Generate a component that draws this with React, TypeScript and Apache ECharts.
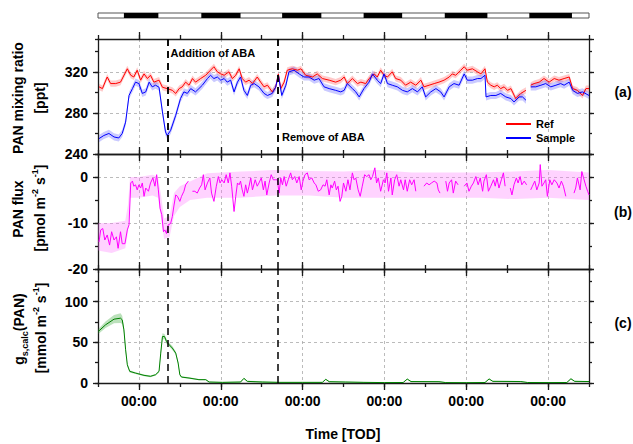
import React, { useEffect, useRef } from "react";
import * as echarts from "echarts";

const FONT = '"Liberation Sans", Arial, Helvetica, sans-serif';

// Time is in hours relative to the first midnight on the axis
const T_MIN = -12;
const T_MAX = 132;
const MIDNIGHTS = [0, 24, 48, 72, 96, 120];
const ABA_ADDED = 8.4;
const ABA_REMOVED = 40.8;

// Dark periods (hours), drawn as black blocks on the light bar
const NIGHT_START = [-4.4, 18.3, 42.0, 65.9, 89.7, 114.5];
const NIGHT_END = [5.7, 29.8, 53.5, 77.2, 102.2, 127.0];

// (a) PAN mixing ratio, ppt
const refHours = [
  -11.7, -10.7, -9.3, -8.3, -6.8, -5.4, -3.4, -2.4, -1.5, -0.5,
  0.5, 1.5, 2.5, 3.4, 4.4, 5.9, 6.9, 8.3, 9.8, 10.8,
  11.8, 12.7, 13.7, 14.7, 15.7, 16.6, 18.1, 19.6, 21.0, 22.0,
  23.0, 24.0, 25.0, 26.4, 27.4, 28.4, 29.4, 30.3, 31.3, 32.3,
  33.3, 34.7, 35.7, 36.7, 37.7, 39.1, 40.1, 40.9, 41.6, 42.6,
  43.5, 45.0, 46.5, 47.5, 48.9, 50.9, 52.3, 53.8, 55.8, 57.7,
  59.2, 60.2, 61.1, 62.6, 64.1, 65.1, 66.5, 67.5, 69.0, 69.9,
  70.9, 71.9, 72.9, 74.3, 75.3, 76.8, 78.2, 79.7, 81.2, 82.7,
  83.6, 85.1, 86.6, 88.0, 89.5, 91.0, 91.9, 92.9, 94.4, 95.4,
  96.3, 97.8, 99.3, 100.3, 101.5, 102.2, 103.2, 104.2, 105.1, 106.1,
  107.1, 108.1, 109.1, 110.5, 112.0, 113.5, 114.2, 114.9, 115.9, 117.4,
  118.8, 120.3, 121.8, 123.2, 124.7, 126.2, 127.2, 128.6, 130.1, 131.1,
  132.0,
];
const refPpt = [
  305.4, 303.7, 315, 308.6, 308.6, 310, 323, 316.7, 315, 321.6,
  311.9, 318, 313.5, 316.7, 310, 311.9, 305, 303.7, 302, 299,
  303.7, 305.4, 310, 307, 313.5, 310, 313.5, 316.7, 321.6, 325,
  320, 318, 316.7, 320, 313.5, 316.7, 323, 313.5, 310, 311.9,
  308.6, 315, 310, 305.4, 307, 300.5, 305, 318, 303.7, 310,
  321.6, 323, 321.6, 323, 316.7, 315, 318, 313.5, 311.9, 310,
  311.9, 315, 308.6, 313.5, 308.6, 310, 308.6, 313.5, 318, 315,
  321.6, 316.7, 315, 320, 313.5, 311.9, 307, 310, 307, 311.9,
  305.4, 307, 308.6, 310, 311.9, 315, 318, 316.7, 321.6, 325,
  321.6, 323, 320, 318, 323, 310, 307, 305.4, 307, 303.7,
  305.4, 302, 303.7, 294, 299, 302, null, 307, 308.6, 310,
  313.5, 310, 313.5, 311.9, 313.5, 315, 303.7, 302, 297, 303.7,
  303.7,
];
const REF_SD = 3;

const sampleHours = [
  -11.7, -10.3, -8.8, -7.3, -5.9, -4.9, -3.9, -2.9, -1.9, -1.0,
  0.0, 1.0, 2.0, 3.0, 3.9, 4.9, 5.9, 6.9, 7.8, 8.3,
  9.3, 10.8, 12.2, 13.2, 14.2, 15.2, 16.6, 17.6, 18.6, 20.1,
  21.0, 22.0, 23.0, 24.0, 25.0, 25.9, 26.9, 27.9, 28.9, 29.8,
  30.8, 31.8, 32.8, 33.8, 35.2, 36.7, 37.7, 39.1, 40.1, 40.9,
  41.9, 43.1, 44.0, 45.5, 47.0, 48.4, 49.9, 51.4, 52.8, 54.3,
  55.8, 57.7, 59.2, 60.2, 61.1, 62.6, 63.6, 64.6, 66.0, 67.5,
  68.5, 69.9, 70.9, 71.9, 72.9, 74.3, 75.8, 77.3, 78.7, 80.2,
  81.7, 83.1, 84.1, 85.6, 87.1, 88.5, 89.5, 91.0, 92.4, 93.9,
  95.4, 96.3, 97.8, 99.3, 100.3, 101.5, 101.8, 103.2, 104.7, 106.1,
  107.6, 109.1, 110.0, 111.5, 112.5, 113.5, 114.2, 114.9, 116.4, 117.9,
  119.3, 120.8, 122.3, 123.7, 124.7, 126.2, 127.2, 128.6, 130.1, 132.0,
];
const samplePpt = [
  255, 258, 260, 256.6, 255.6, 260, 271, 297, 303.7, 310,
  308.6, 299, 300.5, 310, 305.4, 307, 305, 281, 261.5, 258,
  263, 277.7, 294, 300.5, 299, 303.7, 300.5, 303.7, 307, 313.5,
  316.7, 313.5, 315, 311.9, 313.5, 310, 311.9, 300.5, 310, 315,
  302, 297, 307, 308.6, 305.4, 299, 297, 299, 305, 316.7,
  297, 307, 320, 321.6, 318, 315, 315, 311.9, 313.5, 305.4,
  303.7, 302, 300.5, 302, 308.6, 303.7, 300.5, 295.6, 303.7, 310,
  318, 311.9, 308.6, 318, 308.6, 307, 305.4, 302, 300.5, 303.7,
  300.5, 305.4, 295.6, 300.5, 303.7, 300.5, 295.6, 305.4, 308.6, 307,
  318, 311.9, 311.9, 313.5, 313.5, 316.7, 295.6, 297, 297, 299,
  295.6, 294, 290.7, 295.6, 295.6, 292.4, null, 305.4, 305.4, 307,
  308.6, 305.4, 307, 308.6, 307, 310, 302, 299, 300.5, 297,
];
const SAMPLE_SD = 3.5;

// (b) PAN flux, pmol m-2 s-1
const fluxHours = [
  -11.7, -11.2, -10.6, -10.0, -9.3, -8.6, -8.0, -7.3, -6.6, -6.1,
  -5.4, -4.9, -4.1, -3.4, -2.9, -2.4, -1.9, -1.5, -1.0, -0.5,
  0.0, 0.5, 1.0, 1.5, 2.0, 2.8, 3.4, 4.1, 4.7, 5.2,
  5.7, 6.2, 6.7, 7.2, 7.6, 8.1, 8.6, 9.3, 9.8, 10.3,
  10.8, 11.3, 12.0, 12.5, 13.2, 13.7, 14.5, 15.0, 15.7, 16.4,
  17.1, 17.8, 18.4, 18.9, 19.4, 20.1, 20.8, 21.3, 22.0, 22.7,
  23.3, 23.8, 24.3, 25.0, 25.6, 26.2, 26.7, 27.2, 27.9, 28.4,
  28.9, 29.4, 29.8, 30.3, 30.8, 31.3, 31.8, 32.3, 32.8, 33.3,
  34.1, 34.7, 35.2, 35.9, 36.5, 37.0, 37.5, 38.2, 38.8, 39.4,
  40.1, 40.6, 41.1, 41.6, 42.1, 42.6, 43.2, 43.8, 44.5, 45.0,
  45.7, 46.3, 47.0, 47.6, 48.1, 48.7, 49.4, 49.9, 50.7, 51.4,
  51.9, 52.6, 53.3, 54.0, 54.6, 55.1, 55.8, 56.3, 56.7, 57.4,
  57.9, 58.4, 59.0,
  59.5, 60.0, 60.7, 61.3, 61.9, 62.6, 63.1, 63.6, 64.3, 64.9,
  65.5, 66.2, 66.8, 67.5, 68.0, 68.5, 69.2, 69.7, 70.2, 70.9,
  71.7, 72.2, 72.7, 73.2, 73.9, 74.3, 75.0, 75.6, 76.3, 76.8,
  77.6, 78.1, 78.7, 79.4, 80.0, 80.7, 81.2, 82.0, 83.6, 84.4,
  85.1, 85.8, 86.6, 87.4, 87.8, 88.3, 89.1, 90.0, 90.5, 91.0,
  91.7, 92.2, 92.9, 93.6, 94.5, 95.4, 96.2, 96.8, 97.5, 98.1,
  98.8, 99.5, 100.1, 100.8, 101.2, 101.9, 102.5, 103.2, 104.0, 104.5,
  105.0, 105.6, 106.3, 106.9, 107.4, 108.1, 108.9, 109.4, 110.0, 110.7,
  111.2, 111.8, 112.3, 113.0, 113.7, 114.3, 114.9, 115.4, 116.1, 116.7,
  117.4, 117.7, 118.2, 118.8, 119.3, 119.8, 120.5, 121.1, 121.8, 122.6,
  123.2, 123.9, 124.5, 125.2, 126.5, 127.6, 128.1, 128.6, 129.4, 129.9,
  130.4, 131.1, 131.6, 132.0,
];
const fluxValues = [
  -14.1, -11.5, -11.2, -13.7, -12.6, -14.8, -11.9, -13.7, -13.0, -15.5,
  -11.9, -14.5, -14.5, -11.5, -10.4, -1.3, -0.9, -2.0, -1.7, -2.8,
  -1.7, -2.4, -1.3, -4.2, -2.4, -3.1, -1.3, -0.2, -2.0, 0.5,
  -2.8, -6.8, -8.2, -11.9, -11.5, -12.3, -10.4, -10.1, -8.6, -6.1,
  -3.9, -4.2, -5.3, -4.2, -3.1, -1.7, -0.9, null, -3.1, -3.1,
  -3.5, -2.4, -1.7, 0.5, -2.8, -1.3, -0.2, -3.5, -5.3, -2.0,
  0.1, -1.3, -0.6, -1.3, 0.5, -1.3, 0.9, -2.0, -7.5, -4.2,
  -1.3, -1.7, -0.9, -2.8, -4.2, -1.7, -3.5, -2.0, -0.2, -2.8,
  -0.6, -2.0, -1.3, -0.2, -2.8, -0.9, -3.9, -1.3, 0.5, -0.6,
  -0.6, -0.6, -3.5, -0.2, -1.7, 0.1, -2.0, -0.6, 0.9, -0.6,
  0.1, -1.3, 0.1, -2.8, -0.9, 0.5, 0.9, -0.6, -0.2, -1.3,
  -1.7, -3.1, -2.8, -1.7, -2.0, -0.6, -3.9, -1.7, -2.4, -0.9,
  -2.8, -2.0, -5.3,
  -4.2, -1.3, -3.1, -0.6, -2.8, 0.9, -0.6, -0.2, -2.8, -4.2,
  -2.0, 0.5, 0.1, 0.5, -0.6, 0.1, 2.0, -1.3, -0.2, -3.1,
  -0.6, -1.3, 0.9, -3.1, -0.2, -3.9, -0.6, 0.5, -2.0, -0.6,
  -2.8, -0.6, -3.1, -0.6, -1.7, -0.6, -3.1, null, -2.0, -1.3,
  -1.7, -1.3, -0.9, -1.3, -2.8, -3.5, null, -0.9, -3.1, -1.3,
  -0.6, -3.5, -0.9, -1.7, null, -2.0, -1.3, -3.1, -2.0, -1.3,
  0.1, -1.7, -0.2, -3.1, -0.9, 0.5, -3.1, -2.0, -0.6, -2.0,
  -0.2, -2.4, -0.6, 0.9, -2.0, null, -2.4, -3.9, -1.7, -0.2,
  -1.3, 0.1, -1.7, -0.9, -1.7, null, -2.8, -2.0, -0.9, -2.8,
  -1.3, 2.7, -2.0, -1.3, -0.6, -4.2, -0.6, -1.7, -0.6, -1.3,
  -2.4, -0.9, -2.0, -4.2, null, -3.5, -2.4, -0.2, -2.8, 1.2,
  -0.2, -2.0, -3.1, -3.9,
];
// flux uncertainty envelope
const fluxBandHours = [-12, -8, -4, -3.2, -2.6, 0, 4, 5.6, 6.5, 7.4, 9, 10.3, 12, 15, 20, 30, 40, 50, 60, 70, 80, 90, 100, 110, 120, 132];
const fluxBandLow = [-16, -16.5, -15.5, -12, -4.5, -4.5, -4, -4.5, -9, -13.5, -13, -8.5, -6.5, -5, -4.5, -4.5, -4, -4, -4.5, -4.5, -4.5, -4.5, -4.5, -4.8, -4.5, -5];
const fluxBandHigh = [-10, -10, -9.5, -6, 0, 0, 0.5, 0, -4, -9, -8.5, -3.5, -2, -1, 0.8, 1.2, 1.5, 1.3, 1.2, 1.5, 1, 1, 1, 1.2, 1.5, 1];

// (c) stomatal conductance for PAN, mmol m-2 s-1
const gsHours = [
  -11.9, -9.8, -7.3, -5.4, -4.9, -4.4, -3.9, -3.4, -2.7, -1.0,
  1.5, 3.4, 4.9, 5.9, 6.4, 6.9, 7.5, 8.1, 8.6, 9.8,
  10.8, 11.5, 12.0, 12.5, 14.7, 17.6, 19.6, 20.6, 24.5, 29.8,
  30.8, 31.8, 36.2, 41.1, 47.9, 53.8, 54.8, 55.8, 60.5, 66,
  72, 77.5, 78.7, 79.8, 88, 90, 96, 101.5, 102.7, 103.8,
  112, 114, 120, 125.5, 126.7, 127.8, 132,
];
const gsValues = [
  63.3, 71.4, 78.4, 79.6, 77.6, 65.3, 40.8, 22.4, 14.3, 12.2,
  9.4, 8.2, 10.2, 14.3, 36.7, 57.1, 57.1, 51, 48.2, 42.9,
  36.7, 24.5, 10.2, 7.3, 6.1, 4.1, 4.1, 1.2, 0.8, 1.2,
  5.7, 2, 1.2, 0.8, 0.8, 0.8, 4.5, 1.6, 1.2, 0.8,
  0.5, 0.6, 4.8, 1.8, 1.6, 0.5, 0.4, 0.6, 5, 2,
  1.8, 0.6, 0.5, 0.6, 5.2, 2, 1.8,
];
const gsSpread = [
  3, 4, 5, 6, 5, 4, 3, 2, 1.5, 1,
  1, 1, 1, 1.5, 3, 4, 3, 3, 2.5, 2.5,
  2, 2, 1.5, 1, 1, 0.8, 0.8, 0.5, 0.4, 0.5,
  0.8, 0.8, 0.8, 0.5, 0.4, 0.4, 0.6, 0.8, 0.6, 0.5,
  0.3, 0.3, 0.6, 0.8, 0.8, 0.3, 0.3, 0.3, 0.6, 0.8,
  0.8, 0.3, 0.3, 0.3, 0.6, 0.8, 0.8,
];

const AXIS_COLOR = "#1a1a1a";
const GRID_LINE = { color: "#aaaaaa", width: 0.8, type: [3, 3] as number[] };
const PANELS = [
  { top: 39, height: 115, min: 240, max: 352, major: 40, minor: 20 },
  { top: 154, height: 115, min: -20, max: 5, major: 10, minor: 5 },
  { top: 269, height: 114, min: 0, max: 140, major: 50, minor: 25 },
];
const PLOT_LEFT = 98;
const PLOT_WIDTH = 491;

const clock = (v: number) => {
  const h = ((Math.round(v) % 24) + 24) % 24;
  return `${String(h).padStart(2, "0")}:00`;
};

const pairs = (hours: number[], vals: (number | null)[]) => hours.map((h, i) => [h, vals[i]]);
const offset = (vals: (number | null)[], d: number) => vals.map((v) => (v == null ? null : v + d));

function bandSeries(grid: number, hours: number[], low: (number | null)[], high: (number | null)[], fill: string) {
  const segments: number[][] = [];
  let cur: number[] = [];
  hours.forEach((_, i) => {
    if (low[i] == null || high[i] == null) {
      if (cur.length) segments.push(cur);
      cur = [];
    } else cur.push(i);
  });
  if (cur.length) segments.push(cur);
  return {
    type: "custom",
    xAxisIndex: grid * 4,
    yAxisIndex: grid * 4,
    silent: true,
    z: 1,
    data: segments.map((seg) => [hours[seg[0]], low[seg[0]]]),
    encode: { x: 0, y: 1 },
    renderItem: (params: any, api: any) => {
      const seg = segments[params.dataIndex];
      const upper = seg.map((i) => api.coord([hours[i], high[i]]));
      const lower = seg.slice().reverse().map((i) => api.coord([hours[i], low[i]]));
      return { type: "polygon", shape: { points: upper.concat(lower) }, style: { fill } };
    },
  };
}

const abaMarks = {
  silent: true,
  symbol: ["none", "none"],
  label: { show: false },
  lineStyle: { color: "#000", type: [7, 5], width: 1.5 },
  emphasis: { disabled: true },
  data: [{ xAxis: ABA_ADDED }, { xAxis: ABA_REMOVED }],
};

function lineSeries(grid: number, name: string | undefined, hours: number[], vals: (number | null)[], color: string) {
  return {
    type: "line",
    name,
    xAxisIndex: grid * 4,
    yAxisIndex: grid * 4,
    data: pairs(hours, vals),
    showSymbol: false,
    symbol: "none",
    connectNulls: false,
    color,
    lineStyle: { color, width: 1 },
    z: 3,
    markLine: abaMarks,
  };
}

function legendEntry(name: string, top: number) {
  return {
    data: [name],
    orient: "vertical",
    left: 506,
    top,
    icon: "rect",
    itemWidth: 25,
    itemHeight: 2,
    padding: 0,
    selectedMode: false,
    textStyle: { fontFamily: FONT, fontWeight: "bold", fontSize: 11, color: "#000", lineHeight: 12 },
  };
}

function buildOption() {
  const tickLine = { color: AXIS_COLOR, width: 1.3 };
  const xAxes: any[] = [];
  PANELS.forEach((_, g) => {
    (["bottom", "top"] as const).forEach((pos) => {
      xAxes.push({
        type: "value", gridIndex: g, position: pos, min: T_MIN, max: T_MAX, interval: 12,
        axisLine: { show: true, onZero: false, lineStyle: tickLine },
        axisTick: { show: true, inside: false, length: 4, lineStyle: tickLine },
        axisLabel: { show: false },
        splitLine: { show: false },
      });
      const labelled = g === 2 && pos === "bottom";
      xAxes.push({
        type: "value", gridIndex: g, position: pos, min: T_MIN, max: T_MAX,
        axisLine: { show: false, onZero: false },
        axisTick: { show: true, inside: false, length: 7, customValues: MIDNIGHTS, lineStyle: tickLine },
        axisLabel: labelled
          ? { show: true, customValues: MIDNIGHTS, formatter: clock, margin: 11, fontSize: 14, fontWeight: "bold", color: "#000", fontFamily: FONT }
          : { show: false },
        splitLine: pos === "bottom" ? { show: true, lineStyle: GRID_LINE } : { show: false },
      });
    });
  });
  xAxes.push({ type: "value", gridIndex: 3, min: T_MIN, max: T_MAX, show: false });

  const yAxes: any[] = [];
  PANELS.forEach((p, g) => {
    (["left", "right"] as const).forEach((pos) => {
      yAxes.push({
        type: "value", gridIndex: g, position: pos, min: p.min, max: p.max, interval: p.major,
        axisLine: { show: true, onZero: false, lineStyle: tickLine },
        axisTick: { show: true, inside: false, length: 5, lineStyle: tickLine },
        axisLabel: pos === "left"
          ? { show: true, margin: 10, showMaxLabel: false, fontSize: 14, fontWeight: "bold", color: "#000", fontFamily: FONT }
          : { show: false },
        splitLine: pos === "left" ? { show: true, lineStyle: GRID_LINE } : { show: false },
      });
      yAxes.push({
        type: "value", gridIndex: g, position: pos, min: p.min, max: p.max, interval: p.minor,
        axisLine: { show: false, onZero: false },
        axisTick: { show: true, inside: false, length: 3, lineStyle: tickLine },
        axisLabel: { show: false },
        splitLine: { show: false },
      });
    });
  });
  yAxes.push({ type: "value", gridIndex: 3, min: 0, max: 1, show: false });

  const grids: any[] = PANELS.map((p) => ({ left: PLOT_LEFT, width: PLOT_WIDTH, top: p.top, height: p.height }));
  grids.push({ left: PLOT_LEFT, width: PLOT_WIDTH, top: 13, height: 5, show: true, borderColor: "#555", borderWidth: 1, backgroundColor: "#fff" });

  const title = { fontFamily: FONT, fontWeight: "bold", fontSize: 14, fill: "#000", align: "center", verticalAlign: "middle" };
  const rich = {
    b: { fontFamily: FONT, fontWeight: "bold", fontSize: 14, lineHeight: 20, fill: "#000" },
    sup: { fontFamily: FONT, fontWeight: "bold", fontSize: 9, lineHeight: 10, verticalAlign: "top", fill: "#000" },
    sub: { fontFamily: FONT, fontWeight: "bold", fontSize: 9, lineHeight: 10, verticalAlign: "bottom", fill: "#000" },
  };
  const vText = (x: number, y: number, text: string, useRich = false) => ({
    type: "text", x, y, rotation: Math.PI / 2, silent: true,
    style: useRich ? { text, rich, align: "center", verticalAlign: "middle" } : { text, ...title },
  });
  const hText = (x: number, y: number, text: string) => ({ type: "text", x, y, silent: true, style: { text, ...title } });

  return {
    animation: false,
    backgroundColor: "#fff",
    grid: grids,
    xAxis: xAxes,
    yAxis: yAxes,
    legend: [legendEntry("Ref", 118), legendEntry("Sample", 132)],
    series: [
      bandSeries(0, refHours, offset(refPpt, -REF_SD), offset(refPpt, REF_SD), "rgba(255,90,90,0.32)"),
      bandSeries(0, sampleHours, offset(samplePpt, -SAMPLE_SD), offset(samplePpt, SAMPLE_SD), "rgba(90,90,255,0.32)"),
      lineSeries(0, "Ref", refHours, refPpt, "#ff0000"),
      lineSeries(0, "Sample", sampleHours, samplePpt, "#0000ff"),
      bandSeries(1, fluxBandHours, fluxBandLow, fluxBandHigh, "rgba(255,110,255,0.3)"),
      lineSeries(1, undefined, fluxHours, fluxValues, "#ff00ff"),
      bandSeries(2, gsHours, gsValues.map((v, i) => v - gsSpread[i]), gsValues.map((v, i) => v + gsSpread[i]), "rgba(60,170,60,0.35)"),
      lineSeries(2, undefined, gsHours, gsValues, "#008000"),
      {
        type: "custom",
        xAxisIndex: 12,
        yAxisIndex: 12,
        silent: true,
        data: NIGHT_START.map((s, i) => [s, NIGHT_END[i]]),
        encode: { x: [0, 1] },
        renderItem: (_p: any, api: any) => {
          const a = api.coord([api.value(0), 1]);
          const b = api.coord([api.value(1), 0]);
          return { type: "rect", shape: { x: a[0], y: a[1], width: b[0] - a[0], height: b[1] - a[1] }, style: { fill: "#000" } };
        },
      },
    ],
    graphic: [
      vText(18, 98, "PAN mixing ratio"),
      vText(40, 98, "[ppt]"),
      vText(18, 209, "PAN flux"),
      vText(40, 208, "{b|[pmol m}{sup|-2}{b| s}{sup|-1}{b|]}", true),
      vText(19, 329, "{b|g}{sub|s,calc}{b|(PAN)}", true),
      vText(41, 328, "{b|[mmol m}{sup|-2}{b| s}{sup|-1}{b|]}", true),
      hText(623, 92, "(a)"),
      hText(623, 212, "(b)"),
      hText(623, 323, "(c)"),
      hText(343, 434, "Time [TOD]"),
    ],
  };
}

export default function App() {
  const ref = useRef<HTMLDivElement>(null);
  useEffect(() => {
    if (!ref.current) return;
    const chart = echarts.init(ref.current, null, { renderer: "svg" });
    const option: any = buildOption();
    chart.setOption(option);
    const addX = chart.convertToPixel({ xAxisIndex: 0 }, ABA_ADDED) as number;
    const remX = chart.convertToPixel({ xAxisIndex: 0 }, ABA_REMOVED) as number;
    const note = { fontFamily: FONT, fontWeight: "bold", fontSize: 11, fill: "#000", align: "left", verticalAlign: "middle" };
    chart.setOption({
      graphic: [
        ...option.graphic,
        { type: "text", x: addX + 3, y: 53, silent: true, style: { text: "Addition of ABA", ...note } },
        { type: "text", x: remX + 4, y: 137, silent: true, style: { text: "Remove of ABA", ...note } },
      ],
    });
    return () => chart.dispose();
  }, []);
  return <div ref={ref} style={{ position: "absolute", left: 0, top: 0, width: 633, height: 444 }} />;
}
